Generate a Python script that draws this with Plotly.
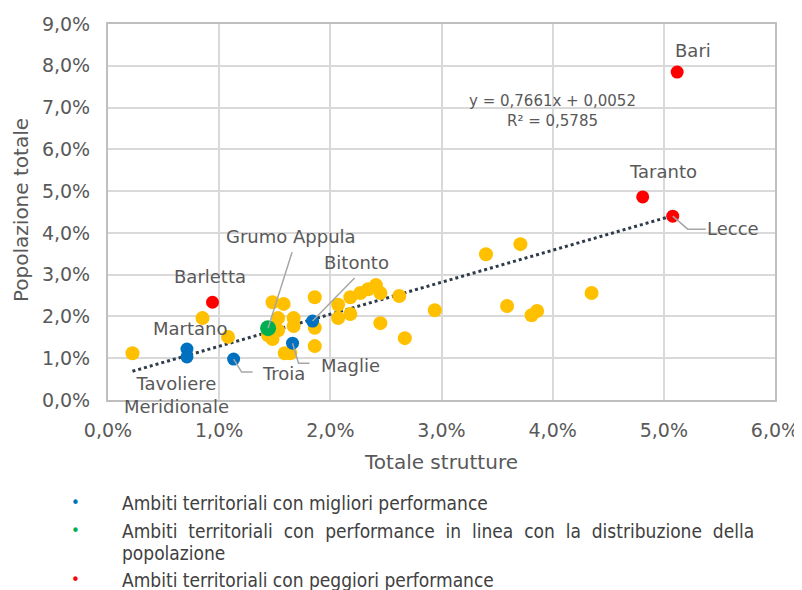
import plotly.graph_objects as go

# ---------------- data ----------------
yellow_x = [0.0022, 0.0085, 0.0108, 0.0148, 0.0158, 0.0153, 0.0167, 0.0167, 0.0144, 0.0148,
            0.0153, 0.0186, 0.0186, 0.0186, 0.0159, 0.0164, 0.0207, 0.0207, 0.0218, 0.0218,
            0.0227, 0.0234, 0.0241, 0.0245, 0.0245, 0.0262, 0.0267, 0.0294, 0.0340, 0.0371,
            0.0359, 0.0381, 0.0386, 0.0435]
yellow_y = [0.0112, 0.0196, 0.0151, 0.0234, 0.0230, 0.0196, 0.0196, 0.0177, 0.0155, 0.0146,
            0.0167, 0.0246, 0.0173, 0.0129, 0.0112, 0.0112, 0.0228, 0.0196, 0.0246, 0.0206,
            0.0256, 0.0265, 0.0275, 0.0256, 0.0184, 0.0249, 0.0148, 0.0215, 0.0349, 0.0373,
            0.0225, 0.0203, 0.0213, 0.0256]

blue_names = ["Martano", "Tavoliere Meridionale", "Troia", "Maglie", "Bitonto"]
blue_x = [0.0071, 0.0071, 0.0113, 0.0166, 0.0184]
blue_y = [0.0122, 0.0103, 0.0098, 0.0136, 0.0189]

green_names = ["Grumo Appula"]
green_x = [0.0144]
green_y = [0.0172]

red_names = ["Bari", "Taranto", "Lecce", "Barletta"]
red_x = [0.0512, 0.0481, 0.0508, 0.0094]
red_y = [0.0785, 0.0486, 0.0440, 0.0234]

trend_slope = 0.7661
trend_intercept = 0.0052
trend_eq = "y = 0,7661x + 0,0052<br>R² = 0,5785"

x_title = "Totale strutture"
y_title = "Popolazione totale"

SP = "&nbsp; "
legend_lines = [
    ("#0070C0", "Ambiti territoriali con migliori performance"),
    ("#00B050", SP.join("Ambiti territoriali con performance in linea con la distribuzione della".split(" "))),
    (None, "popolazione"),
    ("#FF0000", "Ambiti territoriali con peggiori performance"),
]
legend_rows = [503, 531, 553, 580]

# ---------------- figure ----------------
# page offset of the plot div (body margin) is 8px; layout is expressed in page pixels
OFF = 8
W, H = 802 - OFF, 590 - OFF
PL, PR, PT, PB = 108, 775, 24, 400          # plot area in page pixels
ML, MT = PL - OFF, PT - OFF
PW, PH = PR - PL, PB - PT
MR, MB = W - ML - PW, H - MT - PH
XR, YR = [0, 0.06], [0, 0.09]
dx = (XR[1] - XR[0]) / PW
dy = (YR[1] - YR[0]) / PH

def px(x):
    return (x - PL) / PW

def py(y):
    return (PB - y) / PH

FONT = "DejaVu Sans"
GREY = "#595959"

fig = go.Figure()

all_x = yellow_x + blue_x + green_x + red_x
tx = [min(all_x), max(all_x)]
fig.add_trace(go.Scatter(x=tx, y=[trend_slope * v + trend_intercept for v in tx],
                         mode="lines", line=dict(color="#2E3B4A", width=3, dash="dot"),
                         hoverinfo="skip"))
fig.add_trace(go.Scatter(x=yellow_x, y=yellow_y, mode="markers",
                         marker=dict(color="#FFC000", size=14)))
fig.add_trace(go.Scatter(x=blue_x, y=blue_y, mode="markers",
                         marker=dict(color="#0070C0", size=13)))
fig.add_trace(go.Scatter(x=green_x, y=green_y, mode="markers",
                         marker=dict(color="#00B050", size=16)))
fig.add_trace(go.Scatter(x=red_x, y=red_y, mode="markers",
                         marker=dict(color="#FF0000", size=13)))

annotations = []
shapes = []

def label(x, y, text, xs, ys, size=18):
    annotations.append(dict(x=x, y=y, xref="x", yref="y", text=text, showarrow=False,
                            xshift=xs, yshift=ys, font=dict(family=FONT, size=size, color=GREY)))

def leader(x, y, pts):
    path = "M {} {}".format(x, y)
    for ox, oy in pts:
        path += " L {} {}".format(x + ox * dx, y - oy * dy)
    shapes.append(dict(type="path", xref="x", yref="y", path=path,
                       line=dict(color="#A6A6A6", width=1.5)))

# red
label(red_x[0], red_y[0], "Bari", 16, 22)
label(red_x[1], red_y[1], "Taranto", 20, 25)
label(red_x[2], red_y[2], "Lecce", 60, -12)
leader(red_x[2], red_y[2], [(15, 13), (33, 13)])
label(red_x[3], red_y[3], "Barletta", -3, 26)
# green
label(green_x[0], green_y[0], "Grumo Appula", 23, 92)
leader(green_x[0], green_y[0], [(24, -76)])
# blue
label(blue_x[0], blue_y[0], "Martano", 3, 21)
label(blue_x[1], blue_y[1], "Tavoliere<br>Meridionale", -10, -38)
label(blue_x[2], blue_y[2], "Troia", 50, -14)
leader(blue_x[2], blue_y[2], [(8, 13), (19, 13)])
label(blue_x[3], blue_y[3], "Maglie", 58, -22)
leader(blue_x[3], blue_y[3], [(6, 20), (17, 20)])
label(blue_x[4], blue_y[4], "Bitonto", 44, 59)
leader(blue_x[4], blue_y[4], [(42, -43)])

# trendline equation
annotations.append(dict(x=0.040, y=0.0692, xref="x", yref="y", text=trend_eq, showarrow=False,
                        font=dict(family=FONT, size=15, color=GREY), align="center"))

# axis titles
annotations.append(dict(x=px(441), y=py(462), xref="paper", yref="paper", text=x_title,
                        showarrow=False, xanchor="center", yanchor="middle",
                        font=dict(family=FONT, size=20, color=GREY)))
annotations.append(dict(x=px(21), y=py(210), xref="paper", yref="paper", text=y_title,
                        showarrow=False, xanchor="center", yanchor="middle", textangle=-90,
                        font=dict(family=FONT, size=20, color=GREY)))

# legend-like bullets below the chart
for (col, txt), ry in zip(legend_lines, legend_rows):
    if col:
        annotations.append(dict(x=px(75), y=py(ry), xref="paper", yref="paper", text="•",
                                showarrow=False, xanchor="center", yanchor="middle",
                                font=dict(family=FONT, size=15, color=col)))
    annotations.append(dict(x=px(120), y=py(ry), xref="paper", yref="paper", text=txt,
                            showarrow=False, xanchor="left", yanchor="middle", align="left",
                            font=dict(family="DejaVu Sans Condensed, DejaVu Sans", size=19,
                                      color="#404040")))

fig.update_layout(
    width=W, height=H,
    margin=dict(l=ML, r=MR, t=MT, b=MB, autoexpand=False),
    paper_bgcolor="white", plot_bgcolor="white",
    showlegend=False,
    separators=",.",
    annotations=annotations, shapes=shapes,
    font=dict(family=FONT, color=GREY),
)
fig.update_xaxes(range=XR, tickvals=[0, 0.01, 0.02, 0.03, 0.04, 0.05, 0.06], tickformat=".1%",
                 showgrid=True, gridcolor="#D9D9D9", gridwidth=2, automargin=False,
                 showline=True, linecolor="#BFBFBF", linewidth=2, mirror=True,
                 zeroline=False, ticks="", ticklabelstandoff=12, tickfont=dict(size=19, color=GREY))
fig.update_yaxes(range=YR, tickvals=[i / 100 for i in range(10)], tickformat=".1%",
                 showgrid=True, gridcolor="#D9D9D9", gridwidth=2, automargin=False,
                 showline=True, linecolor="#BFBFBF", linewidth=2, mirror=True,
                 zeroline=False, ticks="", ticklabelstandoff=12, tickfont=dict(size=19, color=GREY))

fig.write_html("out.html")
